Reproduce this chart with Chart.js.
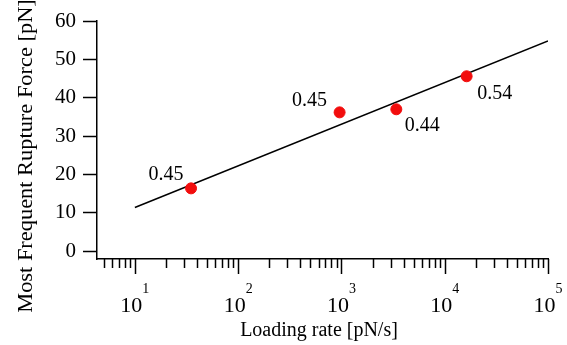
<!DOCTYPE html>
<html>
<head>
<meta charset="utf-8">
<script src="https://cdn.jsdelivr.net/npm/chart.js@4/dist/chart.umd.min.js"></script>
<style>
  html, body { margin: 0; padding: 0; background: #fff; }
  #wrap { width: 567px; height: 345px; }
</style>
</head>
<body>
<div id="wrap"><canvas id="c" width="567" height="345"></canvas></div>
<script>
// data
const loadingRates = [35, 960, 3400, 16300];
const ruptureForces = [16.4, 36.2, 37.0, 45.6];
const pointLabels = ['0.45', '0.45', '0.44', '0.54'];
const fitRates = [10, 100000];
const fitForces = [11.4, 54.8];
const yTicks = [0, 10, 20, 30, 40, 50, 60];
const xDecades = [1, 2, 3, 4, 5];
const xTitle = 'Loading rate [pN/s]';
const yTitle = 'Most Frequent Rupture Force [pN]';

const serif = '"Liberation Serif", "DejaVu Serif", serif';

// label offsets relative to each point (px)
const labelOffsets = [[-25, -14], [-30, -12], [26, 16], [28, 17]];

const decorPlugin = {
  id: 'decor',
  afterDraw(chart) {
    const ctx = chart.ctx;
    const xs = chart.scales.x;
    const bottom = chart.chartArea.bottom;
    ctx.save();
    ctx.strokeStyle = '#000';
    ctx.fillStyle = '#000';
    ctx.lineWidth = 1.5;

    // x ticks: majors at decades, minors at 2..9
    for (let e = 0; e <= 5; e++) {
      for (let m = 1; m <= 9; m++) {
        const v = m * Math.pow(10, e);
        if (v < xs.min || v > xs.max) continue;
        const px = Math.round(xs.getPixelForValue(v)) + 0.5;
        const len = m === 1 ? 15 : 9;
        ctx.beginPath();
        ctx.moveTo(px, bottom);
        ctx.lineTo(px, bottom + len);
        ctx.stroke();
      }
    }

    // x tick labels 10^n
    ctx.textBaseline = 'alphabetic';
    ctx.textAlign = 'left';
    xDecades.forEach(n => {
      const px = xs.getPixelForValue(Math.pow(10, n));
      ctx.font = '22px ' + serif;
      const w = ctx.measureText('10').width;
      ctx.font = '14px ' + serif;
      const ws = ctx.measureText(String(n)).width;
      const x0 = px - (w + ws) / 2;
      ctx.font = '22px ' + serif;
      ctx.fillText('10', x0, 312);
      ctx.font = '14px ' + serif;
      ctx.fillText(String(n), x0 + w, 293);
    });

    // x axis title
    ctx.font = '20px ' + serif;
    ctx.textAlign = 'center';
    ctx.fillText(xTitle, 319, 336);

    // y axis title, a little stretched along its length
    ctx.save();
    ctx.translate(27, 156);
    ctx.rotate(-Math.PI / 2);
    ctx.scale(1.12, 1);
    ctx.textBaseline = 'middle';
    ctx.fillText(yTitle, 0, 0);
    ctx.restore();

    // point labels
    const meta = chart.getDatasetMeta(0);
    ctx.textBaseline = 'middle';
    meta.data.forEach((pt, i) => {
      const o = labelOffsets[i];
      ctx.fillText(pointLabels[i], pt.x + o[0], pt.y + o[1]);
    });
    ctx.restore();
  }
};

new Chart(document.getElementById('c'), {
  type: 'scatter',
  data: {
    datasets: [
      {
        data: loadingRates.map((x, i) => ({ x: x, y: ruptureForces[i] })),
        backgroundColor: '#f20d0d',
        borderColor: '#f20d0d',
        pointRadius: 5.5,
        showLine: false,
        order: 0
      },
      {
        data: fitRates.map((x, i) => ({ x: x, y: fitForces[i] })),
        borderColor: '#000',
        borderWidth: 1.5,
        pointRadius: 0,
        showLine: true,
        order: 1
      }
    ]
  },
  options: {
    responsive: false,
    animation: false,
    events: [],
    layout: { padding: { top: 21, right: 19, left: 0, bottom: 0 } },
    plugins: { legend: { display: false }, tooltip: { enabled: false } },
    scales: {
      x: {
        type: 'logarithmic',
        min: 4.3,
        max: 100000,
        grid: { display: false },
        border: { display: true, color: '#000', width: 1.5 },
        ticks: { display: false },
        afterFit: s => { s.height = 86; }
      },
      y: {
        type: 'linear',
        min: -2,
        max: 60,
        afterBuildTicks: s => { s.ticks = yTicks.map(v => ({ value: v })); },
        grid: {
          drawOnChartArea: false,
          drawTicks: true,
          tickLength: 14,
          tickWidth: 1.5,
          tickColor: '#000'
        },
        border: { display: true, color: '#000', width: 1.5 },
        ticks: {
          color: '#000',
          padding: 7,
          font: { family: serif, size: 21 }
        },
        afterFit: s => { s.width = 97; }
      }
    }
  },
  plugins: [decorPlugin]
});
</script>
</body>
</html>
